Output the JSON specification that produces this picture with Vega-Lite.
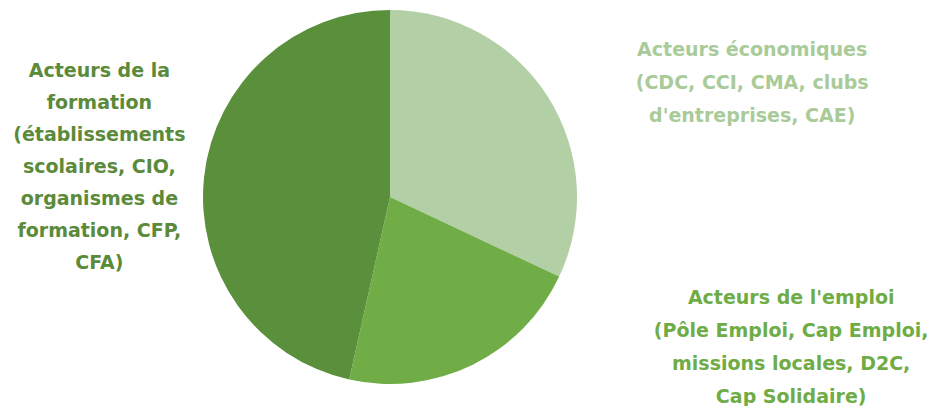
{
  "$schema": "https://vega.github.io/schema/vega-lite/v6.json",
  "width": 780,
  "height": 394,
  "padding": {"left": 0, "top": 0, "right": 156, "bottom": 12},
  "autosize": {"type": "none"},
  "background": "white",
  "config": {"view": {"stroke": null}},
  "data": {
    "values": [
      {"categorie": "Acteurs économiques", "ordre": 1, "part": 32.0, "libelle": "Acteurs économiques\n(CDC, CCI, CMA,  clubs\nd'entreprises, CAE)"},
      {"categorie": "Acteurs de l'emploi", "ordre": 2, "part": 21.5, "libelle": "Acteurs de l'emploi\n(Pôle Emploi, Cap Emploi,\nmissions  locales, D2C,\nCap Solidaire)"},
      {"categorie": "Acteurs de la formation", "ordre": 3, "part": 46.5, "libelle": "Acteurs de la\nformation\n(établissements\nscolaires, CIO,\norganismes de\nformation, CFP,\nCFA)"}
    ]
  },
  "encoding": {
    "theta": {"field": "part", "type": "quantitative", "stack": true},
    "order": {"field": "ordre", "type": "quantitative", "sort": "ascending"}
  },
  "layer": [
    {
      "mark": {"type": "arc", "outerRadius": 187, "stroke": null},
      "encoding": {
        "color": {
          "field": "categorie",
          "type": "nominal",
          "scale": {
            "domain": ["Acteurs économiques", "Acteurs de l'emploi", "Acteurs de la formation"],
            "range": ["#B3CFA6", "#70AD47", "#5A8F3B"]
          },
          "legend": null
        }
      }
    },
    {
      "mark": {"type": "text", "radius": 230, "dx": 168, "dy": -24, "font": "DejaVu Sans", "fontWeight": "bold", "fontSize": 19, "lineHeight": 33, "lineBreak": "\n", "align": "center", "baseline": "middle", "color": "#A9CB99"},
      "encoding": {
        "text": {"condition": {"test": "datum.ordre === 1", "field": "libelle"}, "value": ""}
      }
    },
    {
      "mark": {"type": "text", "radius": 230, "dx": 300, "dy": -106, "font": "DejaVu Sans", "fontWeight": "bold", "fontSize": 19, "lineHeight": 33, "lineBreak": "\n", "align": "center", "baseline": "middle", "color": "#6FAC46"},
      "encoding": {
        "text": {"condition": {"test": "datum.ordre === 2", "field": "libelle"}, "value": ""}
      }
    },
    {
      "mark": {"type": "text", "radius": 230, "dx": -62, "dy": -101, "font": "DejaVu Sans", "fontWeight": "bold", "fontSize": 19, "lineHeight": 32, "lineBreak": "\n", "align": "center", "baseline": "middle", "color": "#5A8A3A"},
      "encoding": {
        "text": {"condition": {"test": "datum.ordre === 3", "field": "libelle"}, "value": ""}
      }
    }
  ]
}
